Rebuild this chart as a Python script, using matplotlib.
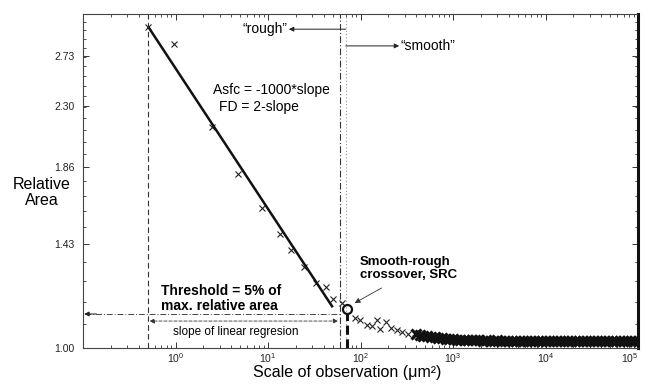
import matplotlib
matplotlib.use("Agg")
import matplotlib.pyplot as plt
from matplotlib.ticker import FixedLocator, FixedFormatter, LogLocator, NullFormatter

plt.rcParams['font.family'] = ['Liberation Sans', 'DejaVu Sans']
plt.rcParams['mathtext.default'] = 'regular'

# Relative area measured at each scale of observation (um^2)
scale_rough = [0.50, 0.96, 2.47, 4.72, 8.57, 13.4, 17.6, 24.4, 32.8, 42.1, 50.1, 62.7]
area_rough = [3.01, 2.84, 2.14, 1.82, 1.62, 1.48, 1.40, 1.32, 1.25, 1.233, 1.183, 1.167]

scale_mid = [86.5, 98, 117, 132, 150, 161, 187, 212, 246, 279, 324, 385]
area_mid = [1.109, 1.101, 1.082, 1.079, 1.101, 1.067, 1.093, 1.071, 1.064, 1.056, 1.049, 1.053]

scale_flat = [398, 437, 479, 525, 575, 631, 692, 759, 832, 912, 1000, 1096, 1202,
              1318, 1445, 1585, 1738, 1905, 2089, 2291, 2512, 2754, 3020, 3311,
              3631, 3981, 4365, 4786, 5248, 5754, 6310, 6918, 7586, 8318, 9120,
              10000, 10965, 12023, 13183, 14454, 15849, 17378, 19055, 20893,
              22909, 25119, 27542, 30200, 33113, 36308, 39811, 43652, 47863,
              52481, 57544, 63096, 69183, 75858, 83176, 91201, 100000]
area_flat = [1.048, 1.046, 1.043, 1.041, 1.039, 1.037, 1.035, 1.034, 1.032, 1.031,
             1.030, 1.029, 1.029, 1.028, 1.028, 1.027, 1.027, 1.027, 1.026, 1.027,
             1.026, 1.026, 1.027, 1.026, 1.026, 1.026, 1.025, 1.026, 1.026, 1.025,
             1.026, 1.026, 1.025, 1.026, 1.025, 1.026, 1.025, 1.025, 1.026, 1.025,
             1.025, 1.026, 1.025, 1.025, 1.025, 1.026, 1.025, 1.025, 1.025, 1.025,
             1.026, 1.025, 1.025, 1.025, 1.025, 1.025, 1.026, 1.025, 1.025, 1.025,
             1.025]

# Linear regression over the rough range (log-log)
fit_scale = [0.503, 50.1]
fit_area = [3.02, 1.15]

# Smooth-rough crossover
src_scale = 71.0
src_area = 1.143

threshold_area = 1.124
regression_span = [0.503, 59.6]
regression_area = 1.097
rough_limit = 59.6
smooth_limit = 69.0

y_ticks = [1.00, 1.43, 1.86, 2.30, 2.73]
y_tick_labels = ['1.00', '1.43', '1.86', '2.30', '2.73']
x_ticks = [1, 10, 100, 1000, 10000, 100000]
x_tick_labels = ['$10^{0}$', '$10^{1}$', '$10^{2}$', '$10^{3}$', '$10^{4}$', '$10^{5}$']

fig = plt.figure(figsize=(6.45, 3.86), dpi=100)
ax = fig.add_axes([83 / 645, 1 - 348 / 386, (638 - 83) / 645, (348 - 14) / 386])
ax.set_xscale('log')
ax.set_yscale('log')
ax.set_xlim(0.1, 1e5)
ax.set_ylim(1.0, 3.15)

mk = dict(linestyle='none', marker='x', color='#222222', markersize=4.5, markeredgewidth=0.8)
ax.plot(scale_rough, area_rough, **mk)
ax.plot(scale_mid, area_mid, **mk)
ax.plot(scale_flat, area_flat, linestyle='none', marker='x', color='#111111',
        markersize=7, markeredgewidth=2.2)

ax.plot(fit_scale, fit_area, color='#111111', linewidth=1.8, solid_capstyle='butt')

# Vertical guides
ax.axvline(fit_scale[0], color='#333333', linewidth=0.8, linestyle=(0, (5, 3)))
ax.axvline(rough_limit, color='#333333', linewidth=0.8, linestyle=(0, (6, 2, 1, 2)))
ax.axvline(smooth_limit, color='#999999', linewidth=0.8, linestyle=(0, (1, 2)))
ax.plot([src_scale, src_scale], [1.0, 1.128], color='#111111', linewidth=2.2,
        linestyle=(0, (3, 1.5)))
ax.plot([src_scale], [src_area], marker='o', markersize=6.5, markerfacecolor='none',
        markeredgecolor='#111111', markeredgewidth=1.6)

# Threshold and regression-span arrows
ax.plot([0.106, rough_limit], [threshold_area, threshold_area], color='#444444',
        linewidth=0.7, linestyle=(0, (6, 2, 1, 2)))
ax.annotate('', xy=(0.103, threshold_area), xytext=(0.14, threshold_area),
            arrowprops=dict(arrowstyle='-|>', color='#222222', lw=0.7,
                            mutation_scale=7, shrinkA=0, shrinkB=0))
ax.annotate('', xy=(regression_span[0] * 1.04, regression_area),
            xytext=(regression_span[1] * 0.96, regression_area),
            arrowprops=dict(arrowstyle='<|-|>', color='#333333', lw=0.6,
                            linestyle=(0, (4, 2)), mutation_scale=7,
                            shrinkA=0, shrinkB=0))

# "rough" / "smooth" arrows
ax.annotate('', xy=(16.8, 2.99), xytext=(smooth_limit, 2.99),
            arrowprops=dict(arrowstyle='-|>', color='#222222', lw=0.7,
                            mutation_scale=7, shrinkA=0, shrinkB=0))
ax.annotate('', xy=(262, 2.823), xytext=(smooth_limit, 2.823),
            arrowprops=dict(arrowstyle='-|>', color='#222222', lw=0.7,
                            mutation_scale=7, shrinkA=0, shrinkB=0))
ax.text(16.3, 2.99, '\u201crough\u201d', fontsize=10, ha='right', va='center')
ax.text(270, 2.823, '\u201csmooth\u201d', fontsize=10, ha='left', va='center')

ax.text(2.54, 2.43, 'Asfc = -1000*slope', fontsize=10, ha='left', va='center')
ax.text(2.94, 2.29, 'FD = 2-slope', fontsize=10, ha='left', va='center')

ax.text(0.695, 1.186, 'Threshold = 5% of\nmax. relative area', fontsize=10,
        fontweight='bold', ha='left', va='center', linespacing=1.15)
ax.text(4.49, 1.056, 'slope of linear regresion', fontsize=8.5, ha='center', va='center')

ax.text(98, 1.314, 'Smooth-rough\ncrossover, SRC', fontsize=9.5, fontweight='bold',
        ha='left', va='center', linespacing=1.1)
ax.annotate('', xy=(86.5, 1.167), xytext=(169, 1.229),
            arrowprops=dict(arrowstyle='-|>', color='#333333', lw=0.6,
                            mutation_scale=8, shrinkA=0, shrinkB=0))

# Axes styling
ax.yaxis.set_major_locator(FixedLocator(y_ticks))
ax.yaxis.set_major_formatter(FixedFormatter(y_tick_labels))
ax.yaxis.set_minor_locator(FixedLocator([1.0 + 0.086 * i for i in range(1, 25)]))
ax.yaxis.set_minor_formatter(NullFormatter())
ax.xaxis.set_major_locator(FixedLocator(x_ticks))
ax.xaxis.set_major_formatter(FixedFormatter(x_tick_labels))
ax.xaxis.set_minor_locator(LogLocator(base=10, subs=range(2, 10), numticks=20))
ax.xaxis.set_minor_formatter(NullFormatter())
ax.tick_params(which='both', direction='in', top=True, right=True, colors='#333333',
               labelcolor='#222222', labelsize=7.5)
ax.tick_params(which='major', length=4, width=0.7)
ax.tick_params(axis='y', which='major', pad=6)
ax.tick_params(axis='x', which='major', pad=2)
ax.tick_params(which='minor', length=2, width=0.6)
for lbl in ax.get_xticklabels()[-1:]:
    lbl.set_horizontalalignment('right')

for side in ('left', 'top', 'bottom'):
    ax.spines[side].set_linewidth(0.8)
    ax.spines[side].set_color('#444444')
ax.spines['top'].set_linestyle((0, (4, 1)))
ax.spines['right'].set_linewidth(2.2)
ax.spines['right'].set_color('#111111')

fig.text(42 / 645, 1 - 192.5 / 386, 'Relative\nArea', fontsize=11.5, ha='center',
         va='center', linespacing=1.1)
fig.text(347 / 645, 1 - 373 / 386, 'Scale of observation (\u03bcm\u00b2)', fontsize=11.5,
         ha='center', va='center')

fig.savefig('out.png', dpi=100)
